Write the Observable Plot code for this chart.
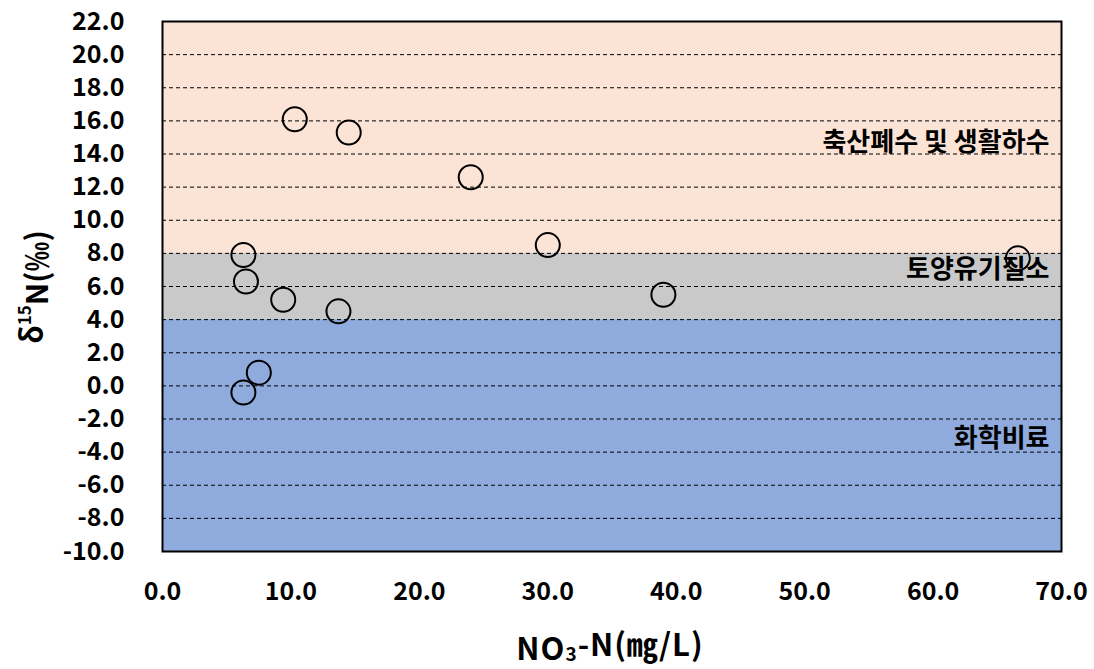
<!DOCTYPE html>
<html>
<head>
<meta charset="utf-8">
<script src="https://cdn.jsdelivr.net/npm/d3@7"></script>
<script src="https://cdn.jsdelivr.net/npm/@observablehq/plot@0.6"></script>
<style>
  html, body { margin: 0; padding: 0; background: #fff; }
  #chart svg { display: block; }
</style>
</head>
<body>
<div id="chart"></div>
<script>
// ---- data ----
const no3n = [10.3, 14.5, 24.0, 30.0, 6.3, 6.5, 9.4, 13.7, 39.0, 66.6, 7.5, 6.3];
const d15n = [16.1, 15.3, 12.6, 8.5, 7.9, 6.3, 5.2, 4.5, 5.5, 7.7, 0.8, -0.4];

const zoneNames = ["축산폐수 및 생활하수", "토양유기질소", "화학비료"];
const zoneLow = [8, 4, -10];
const zoneHigh = [22, 8, 4];
const zoneLabelY = [14.7, 7.0, -3.2];

const xTicks = [0, 10, 20, 30, 40, 50, 60, 70];
const yTicks = [-10, -8, -6, -4, -2, 0, 2, 4, 6, 8, 10, 12, 14, 16, 18, 20, 22];
const gridY = [-8, -6, -4, -2, 0, 2, 4, 6, 8, 10, 12, 14, 16, 18, 20];

// ---- styles ----
const zoneFill = {"축산폐수 및 생활하수": "#FBE4D6", "토양유기질소": "#C9C9C9", "화학비료": "#8FAADC"};
const FONT = "'Noto Sans CJK KR', 'Noto Sans', sans-serif";

const points = no3n.map((x, i) => ({x, y: d15n[i]}));
const zones = zoneNames.map((name, i) => ({name, low: zoneLow[i], high: zoneHigh[i], ly: zoneLabelY[i]}));
const fmt = d => d.toFixed(1);

const chart = Plot.plot({
  width: 1094,
  height: 669,
  marginLeft: 162,
  marginRight: 33,
  marginTop: 21,
  marginBottom: 118,
  style: {fontFamily: FONT, fontWeight: "bold", color: "#000", background: "#fff"},
  x: {domain: [0, 70]},
  y: {domain: [-10, 22]},
  marks: [
    Plot.rectY(zones, {y1: "low", y2: "high", fill: d => zoneFill[d.name]}),
    Plot.ruleY(gridY, {stroke: "#000", strokeWidth: 1, strokeDasharray: "4,3"}),
    Plot.axisY({ticks: yTicks, tickFormat: fmt, tickSize: 0, tickPadding: 38, fontSize: 25, label: null}),
    Plot.axisX({ticks: xTicks, tickFormat: fmt, tickSize: 0, tickPadding: 31, fontSize: 25, label: null}),
    Plot.text(zones, {y: "ly", text: "name", frameAnchor: "right", textAnchor: "end", dx: -12, fontSize: 26, fill: "#000"}),
    Plot.dot(points, {x: "x", y: "y", r: 12, stroke: "#000", strokeWidth: 2, fill: "none"}),
    Plot.frame({stroke: "#000", strokeWidth: 2})
  ]
});

document.getElementById("chart").appendChild(chart);

const svg = d3.select(chart);
// y axis title
const yt = svg.append("text")
  .attr("transform", "translate(30,287) rotate(-90)")
  .attr("text-anchor", "middle")
  .attr("dominant-baseline", "central")
  .style("font-family", FONT).style("font-weight", "bold").style("font-size", "30px").attr("fill", "#000");
yt.append("tspan").text("δ");
yt.append("tspan").attr("dy", "-0.4em").style("font-size", "17px").text("15");
yt.append("tspan").attr("dy", "0.4em").text("N(‰)");

// x axis title
const xt = svg.append("text")
  .attr("x", 610).attr("y", 646)
  .attr("text-anchor", "middle")
  .attr("dominant-baseline", "central")
  .style("font-family", FONT).style("font-weight", "bold").style("font-size", "31px").style("letter-spacing", "1px").attr("fill", "#000");
xt.append("tspan").text("NO");
xt.append("tspan").attr("dy", "0.3em").style("font-size", "19px").text("3");
xt.append("tspan").attr("dy", "-0.3em").text("-N(㎎/L)");
</script>
</body>
</html>
